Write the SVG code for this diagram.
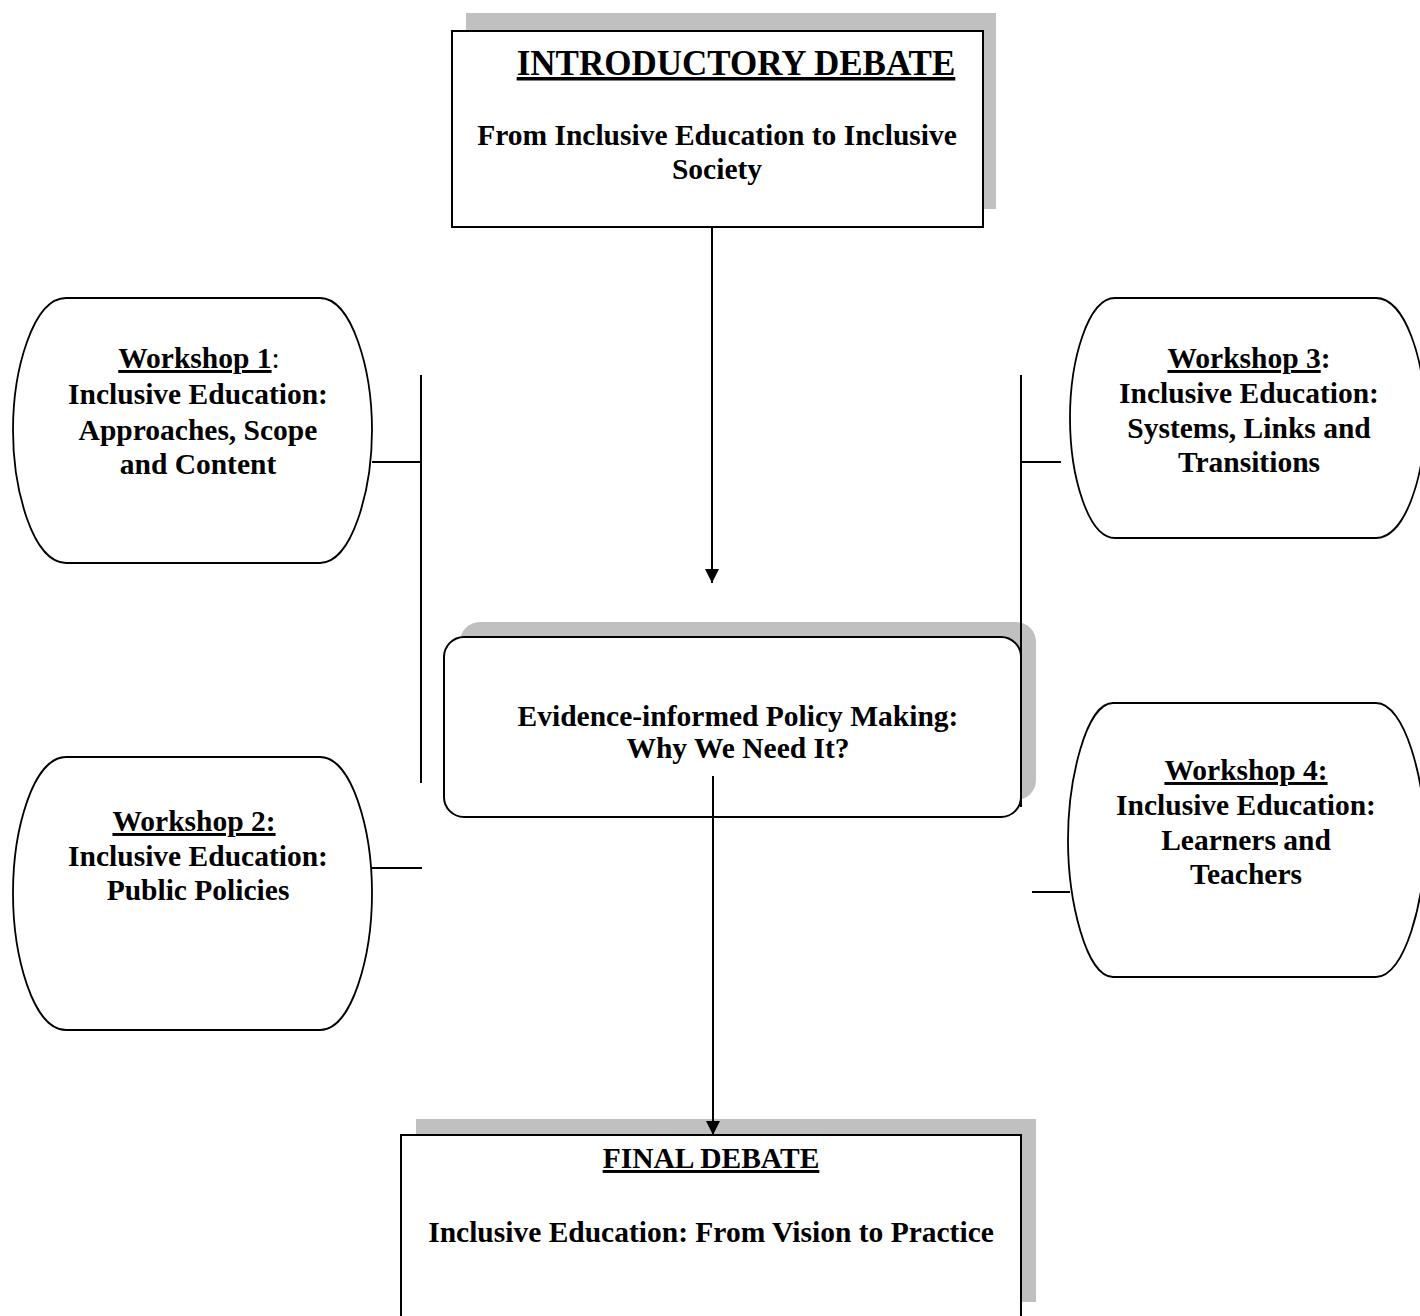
<svg xmlns="http://www.w3.org/2000/svg" width="1420" height="1316" viewBox="0 0 1420 1316">
<style>
.shadow{fill:#c0c0c0;stroke:none}
.box{fill:#fff;stroke:#000;stroke-width:2}
.ws{fill:#fff;stroke:#000;stroke-width:1.8}
.t{font-family:"Liberation Serif","Times New Roman",serif;font-weight:bold;font-size:29.5px;fill:#000;text-anchor:middle}
.big{font-size:35px}
.u{text-decoration:underline}
.conn{stroke:#000;stroke-width:2;fill:none}
</style>
<defs>
<marker id="arr" markerWidth="14" markerHeight="16" refX="14" refY="8" orient="auto" markerUnits="userSpaceOnUse">
<path d="M0,1 L14,8 L0,15 Z" fill="#000"/>
</marker>
</defs>
<rect width="1420" height="1316" fill="#fff"/>

<g id="intro">
<rect class="shadow" x="466" y="13" width="530" height="196"/>
<rect class="box" x="452" y="31" width="531" height="196"/>
<text class="t big u" x="736" y="75">INTRODUCTORY DEBATE</text>
<text class="t" x="717" y="145">From Inclusive Education to Inclusive</text>
<text class="t" x="717" y="179">Society</text>
</g>

<g id="ws1">
<path class="ws" d="M66,298 H320 C352,298 372,370 372,430 C372,490 352,563 320,563 H66 C33,563 13,490 13,430 C13,370 33,298 66,298 Z"/>
<text class="t" x="199" y="368"><tspan class="u">Workshop 1</tspan><tspan style="font-weight:normal">:</tspan></text>
<text class="t" x="198" y="404">Inclusive Education:</text>
<text class="t" x="198" y="440">Approaches, Scope</text>
<text class="t" x="198" y="474">and Content</text>
</g>

<g id="ws2">
<path class="ws" d="M66,757 H320 C352,757 372,830 372,893 C372,956 352,1030 320,1030 H66 C33,1030 13,956 13,893 C13,830 33,757 66,757 Z"/>
<text class="t u" x="194" y="831">Workshop 2:</text>
<text class="t" x="198" y="866">Inclusive Education:</text>
<text class="t" x="198" y="900">Public Policies</text>
</g>

<g id="ws3">
<path class="ws" d="M1115,298 H1376 C1405,298 1425,360 1425,418 C1425,476 1405,538 1376,538 H1115 C1088,538 1070,476 1070,418 C1070,360 1088,298 1115,298 Z"/>
<text class="t" x="1249" y="368"><tspan class="u">Workshop 3</tspan>:</text>
<text class="t" x="1249" y="403">Inclusive Education:</text>
<text class="t" x="1249" y="438">Systems, Links and</text>
<text class="t" x="1249" y="472">Transitions</text>
</g>

<g id="ws4">
<path class="ws" d="M1113,703 H1376 C1405,703 1425,780 1425,840 C1425,900 1405,977 1376,977 H1113 C1086,977 1068,900 1068,840 C1068,780 1086,703 1113,703 Z"/>
<text class="t u" x="1246" y="780">Workshop 4:</text>
<text class="t" x="1246" y="815">Inclusive Education:</text>
<text class="t" x="1246" y="850">Learners and</text>
<text class="t" x="1246" y="884">Teachers</text>
</g>

<g id="policy">
<rect class="shadow" x="460" y="622" width="576" height="178" rx="20" ry="20"/>
<rect class="box" x="444" y="637" width="577" height="180" rx="20" ry="20"/>
<text class="t" x="738" y="726">Evidence-informed Policy Making:</text>
<text class="t" x="738" y="758">Why We Need It?</text>
</g>

<g id="final">
<rect class="shadow" x="416" y="1119" width="620" height="183"/>
<rect class="box" x="401" y="1135" width="620" height="200"/>
<text class="t u" x="711" y="1168">FINAL DEBATE</text>
<text class="t" x="711" y="1242">Inclusive Education: From Vision to Practice</text>
</g>

<g id="connectors">
<line class="conn" x1="712" y1="227" x2="712" y2="583" marker-end="url(#arr)"/>
<line class="conn" x1="713" y1="776" x2="713" y2="1135" marker-end="url(#arr)"/>
<line class="conn" x1="421" y1="375" x2="421" y2="783"/>
<line class="conn" x1="372" y1="462" x2="421" y2="462"/>
<line class="conn" x1="372" y1="868" x2="422" y2="868"/>
<line class="conn" x1="1021" y1="375" x2="1021" y2="807"/>
<line class="conn" x1="1021" y1="462" x2="1061" y2="462"/>
<line class="conn" x1="1032" y1="892" x2="1070" y2="892"/>
</g>
</svg>
